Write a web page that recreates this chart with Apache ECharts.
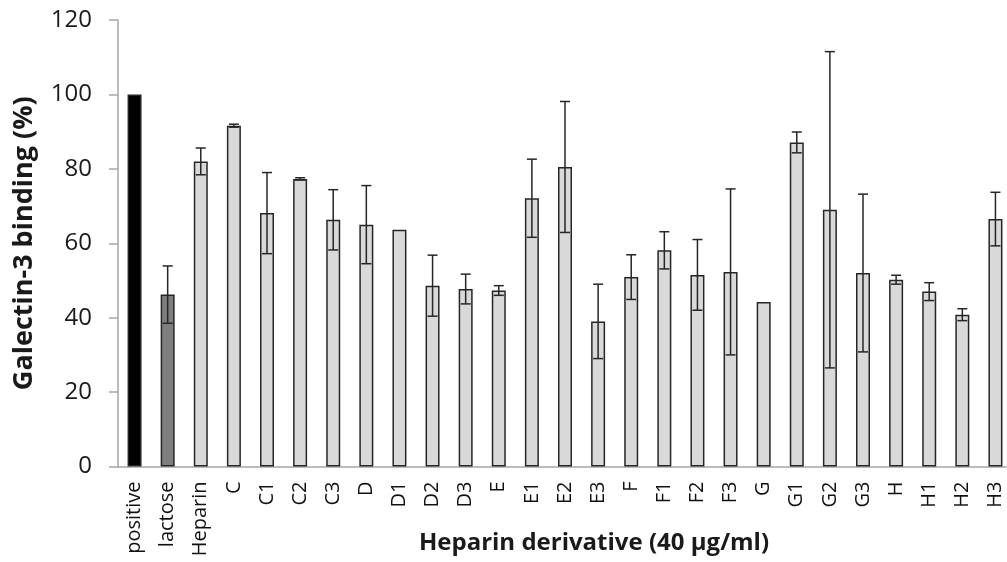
<!DOCTYPE html>
<html>
<head>
<meta charset="utf-8">
<script src="https://cdn.jsdelivr.net/npm/echarts@6/dist/echarts.min.js"></script>
<style>
  html, body { margin: 0; padding: 0; background: #fff; }
  #chart { width: 1007px; height: 562px; }
</style>
</head>
<body>
<div id="chart"></div>
<script>
// categories along the x axis
var categories = ['positive', 'lactose', 'Heparin', 'C', 'C1', 'C2', 'C3', 'D', 'D1', 'D2', 'D3', 'E',
  'E1', 'E2', 'E3', 'F', 'F1', 'F2', 'F3', 'G', 'G1', 'G2', 'G3', 'H', 'H1', 'H2', 'H3']

// galectin-3 binding (%)
var binding = [100, 46.2, 82.0, 91.6, 68.1, 77.3, 66.3, 65.0, 63.6, 48.6, 47.7, 47.3,
  72.1, 80.5, 39.0, 50.9, 58.1, 51.5, 52.3, 44.2, 87.1, 69.0, 52.0, 50.2, 47.0, 40.8, 66.5]

// +/- error (%), 0 = no bar drawn
var errors = [0, 7.7, 3.6, 0.4, 10.9, 0.3, 8.1, 10.5, 0, 8.2, 4.0, 1.3,
  10.5, 17.6, 10.0, 6.0, 5.0, 9.5, 22.3, 0, 2.8, 42.5, 21.2, 1.2, 2.4, 1.6, 7.2]

var barColors = { positive: '#000000', lactose: '#7f7f7f' }

var chart = echarts.init(document.getElementById('chart'))

var barData = binding.map(function(v, i) {
  return {
    value: v,
    itemStyle: { color: barColors[categories[i]] || '#d9d9d9' }
  }
})

var errData = binding.map(function(v, i) {
  return [i, v - errors[i], v + errors[i], errors[i]]
})

chart.setOption({
  animation: false,
  textStyle: { fontFamily: 'Open Sans' },
  grid: {
    left: 118,
    top: 20,
    width: 894,
    height: 446.5,
    outerBoundsMode: 'none'
  },
  xAxis: {
    type: 'category',
    data: categories,
    name: 'Heparin derivative (40 µg/ml)',
    nameLocation: 'middle',
    nameGap: 65,
    nameMoveOverlap: false,
    nameTextStyle: {
      fontSize: 24,
      fontWeight: 'bold',
      color: '#1a1a1a',
      padding: [0, 0, 0, 58]
    },
    axisLine: { lineStyle: { color: '#a6a6a6', width: 1.5 } },
    axisTick: { length: 7, lineStyle: { color: '#a6a6a6', width: 1.5 } },
    axisLabel: {
      interval: 0,
      rotate: 90,
      margin: 15,
      fontSize: 20,
      color: '#111'
    }
  },
  yAxis: {
    type: 'value',
    min: 0,
    max: 120,
    interval: 20,
    name: 'Galectin-3 binding (%)',
    nameLocation: 'middle',
    nameGap: 80,
    nameTextStyle: {
      fontSize: 27,
      fontWeight: 'bold',
      color: '#1a1a1a'
    },
    axisLine: { show: true, lineStyle: { color: '#a6a6a6', width: 1.5 } },
    axisTick: { show: true, length: 9, lineStyle: { color: '#a6a6a6', width: 1.5 } },
    axisLabel: { fontSize: 24, margin: 26, color: '#1a1a1a' },
    splitLine: { show: false }
  },
  series: [
    {
      type: 'bar',
      data: barData,
      barWidth: 14,
      itemStyle: { borderColor: '#262626', borderWidth: 1.5 }
    },
    {
      type: 'custom',
      data: errData,
      z: 10,
      renderItem: function(params, api) {
        if (!api.value(3)) {
          return
        }
        var x = api.value(0)
        var lo = api.coord([x, api.value(1)])
        var hi = api.coord([x, api.value(2)])
        var half = 5
        var style = { stroke: '#262626', lineWidth: 1.5 }
        return {
          type: 'group',
          children: [
            { type: 'line', shape: { x1: hi[0], y1: hi[1], x2: lo[0], y2: lo[1] }, style: style },
            { type: 'line', shape: { x1: hi[0] - half, y1: hi[1], x2: hi[0] + half, y2: hi[1] }, style: style },
            { type: 'line', shape: { x1: lo[0] - half, y1: lo[1], x2: lo[0] + half, y2: lo[1] }, style: style }
          ]
        }
      }
    }
  ]
})
</script>
</body>
</html>
